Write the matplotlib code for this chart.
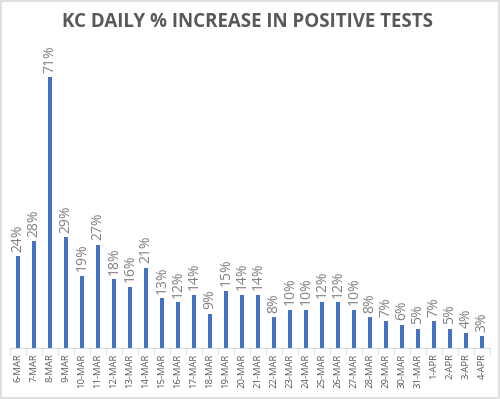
import numpy as np
import matplotlib
matplotlib.use("Agg")
import matplotlib.pyplot as plt
from matplotlib.patches import Rectangle

# ── Data ──────────────────────────────────────────────────────────────────────
days = ["6-MAR", "7-MAR", "8-MAR", "9-MAR", "10-MAR", "11-MAR", "12-MAR",
        "13-MAR", "14-MAR", "15-MAR", "16-MAR", "17-MAR", "18-MAR", "19-MAR",
        "20-MAR", "21-MAR", "22-MAR", "23-MAR", "24-MAR", "25-MAR", "26-MAR",
        "27-MAR", "28-MAR", "29-MAR", "30-MAR", "31-MAR", "1-APR", "2-APR",
        "3-APR", "4-APR"]
pct_increase = [24, 28, 71, 29, 19, 27, 18, 16, 21, 13, 12, 14, 9, 15, 14,
                14, 8, 10, 10, 12, 12, 10, 8, 7, 6, 5, 7, 5, 4, 3]

plt.rcParams["font.family"] = ["Open Sans", "DejaVu Sans"]

fig = plt.figure(figsize=(5.0, 3.99), dpi=100)
fig.patches.append(Rectangle((0.002, 0.002), 0.996, 0.996, transform=fig.transFigure,
                             fill=False, edgecolor="#d9d9d9", linewidth=1.2))
ax = fig.add_axes([0.02, 0.128, 0.96, 0.764])

x = np.arange(len(days))
ax.bar(x, pct_increase, width=0.2, color="#4472c4")

for xi, v in zip(x, pct_increase):
    ax.text(xi, v + 1.2, f"{v}%", rotation=90, ha="center", va="bottom",
            fontsize=10, color="#808080")

ax.set_xlim(-0.5, len(days) - 0.5)
ax.set_ylim(0, 80)
ax.set_yticks([])
for s in ["top", "right", "left"]:
    ax.spines[s].set_visible(False)
ax.spines["bottom"].set_color("#d9d9d9")

ax.set_xticks(x)
ax.set_xticklabels(days, rotation=90, fontsize=6.8, color="#595959")
ax.tick_params(axis="x", which="major", length=0, pad=4)
ax.set_xticks(np.arange(-0.5, len(days), 1.0), minor=True)
ax.tick_params(axis="x", which="minor", length=5, color="#d9d9d9")

fig.text(0.496, 0.945, "KC DAILY % INCREASE IN POSITIVE TESTS", ha="center", va="center",
         fontsize=13.5, fontweight="bold", color="#595959")

fig.savefig("out.png", dpi=100)
